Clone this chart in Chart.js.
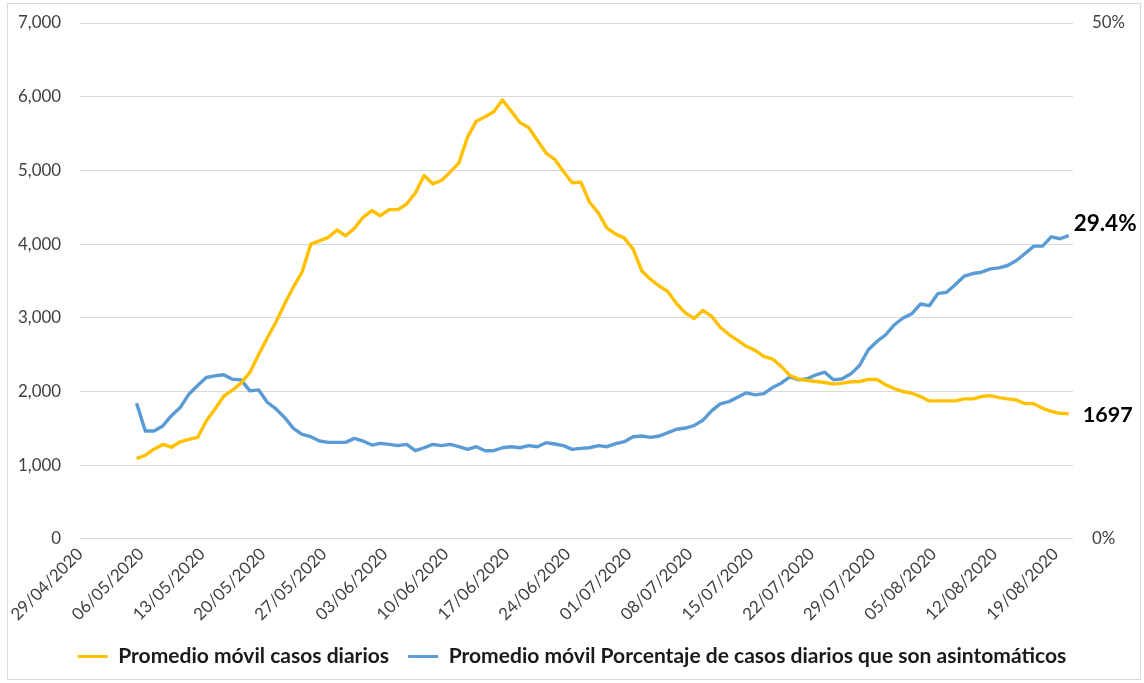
<!DOCTYPE html>
<html>
<head>
<meta charset="utf-8">
<script src="https://cdn.jsdelivr.net/npm/chart.js@4.4.1/dist/chart.umd.min.js"></script>
<style>
  html, body { margin: 0; padding: 0; background: #fff; }
  #wrap { width: 1144px; height: 683px; }
</style>
</head>
<body>
<div id="wrap"><canvas id="c" width="1144" height="683"></canvas></div>
<script>
// ---- Data ----
const tickLabels = ['29/04/2020','06/05/2020','13/05/2020','20/05/2020','27/05/2020','03/06/2020',
  '10/06/2020','17/06/2020','24/06/2020','01/07/2020','08/07/2020','15/07/2020','22/07/2020',
  '29/07/2020','05/08/2020','12/08/2020','19/08/2020'];
const axisDays = 114;        // 29/04/2020 .. 20/08/2020, one slot per day
const firstDataDay = 6;      // 05/05/2020
const seriesNames = ['Promedio móvil casos diarios',
  'Promedio móvil Porcentaje de casos diarios que son asintomáticos'];

const casos = [
  1091,1136,1218,1282,1245,1318,1350,1377,1600,1764,
  1936,2018,2118,2259,2500,2727,2941,3191,3418,3623,
  4000,4045,4091,4191,4114,4214,4364,4455,4386,4468,
  4468,4545,4695,4932,4818,4864,4977,5100,5455,5668,
  5727,5795,5955,5805,5650,5582,5409,5236,5150,4986,
  4832,4841,4568,4423,4218,4136,4082,3932,3636,3523,
  3432,3355,3191,3068,2991,3100,3023,2873,2773,2695,
  2614,2559,2477,2441,2341,2218,2168,2150,2136,2123,
  2100,2114,2132,2136,2164,2164,2091,2041,2000,1977,
  1932,1873,1873,1873,1873,1900,1900,1932,1945,1918,
  1900,1886,1836,1836,1773,1732,1705,1697
];
const asintomaticos = [
  13.15,10.46,10.46,10.95,11.95,12.73,14.03,14.87,15.65,15.81,
  15.91,15.48,15.42,14.35,14.45,13.25,12.60,11.76,10.72,10.14,
  9.91,9.49,9.36,9.36,9.36,9.75,9.49,9.10,9.26,9.17,
  9.04,9.17,8.55,8.84,9.17,9.04,9.17,8.94,8.68,8.94,
  8.55,8.55,8.84,8.94,8.84,9.04,8.94,9.33,9.20,9.04,
  8.68,8.78,8.84,9.04,8.94,9.23,9.43,9.91,9.98,9.85,
  9.98,10.30,10.63,10.75,10.98,11.50,12.41,13.09,13.31,13.74,
  14.16,13.96,14.09,14.67,15.10,15.71,15.42,15.52,15.91,16.16,
  15.42,15.52,16.00,16.81,18.34,19.14,19.79,20.76,21.41,21.83,
  22.77,22.61,23.78,23.91,24.65,25.46,25.72,25.85,26.17,26.27,
  26.50,26.98,27.66,28.38,28.38,29.28,29.09,29.40
];
const leftMax = 7000, leftStep = 1000, rightMax = 50, tickStepDays = 7;

// ---- helpers ----
const mctx = document.createElement('canvas').getContext('2d');
function fitSize(text, weight, family, target) {
  mctx.font = weight + ' 100px ' + family;
  return 100 * target / mctx.measureText(text).width;
}
const FAMILY = 'Lato';
const axisSize = fitSize('7,000', 'normal', FAMILY, 43);
const legendSize = fitSize(seriesNames[0], 'bold', FAMILY, 271);
const pctLabelSize = fitSize('29.4%', 'bold', FAMILY, 63);
const numLabelSize = fitSize('1697', 'bold', FAMILY, 50);

const toPoints = arr => arr.map((v, i) => ({ x: firstDataDay + i + 0.5, y: v }));

const YELLOW = '#FFC000', BLUE = '#5B9BD5';

const frame = {
  id: 'frame',
  beforeDraw(chart) {
    const c = chart.ctx;
    c.save();
    c.fillStyle = '#fff';
    c.fillRect(0, 0, chart.width, chart.height);
    c.strokeStyle = '#D9D9D9';
    c.lineWidth = 1;
    c.strokeRect(7.5, 3.5, 1133, 676);
    c.restore();
  }
};

const endLabels = {
  id: 'endLabels',
  afterDatasetsDraw(chart) {
    const c = chart.ctx;
    c.save();
    c.fillStyle = '#000';
    c.textAlign = 'left';
    c.textBaseline = 'middle';
    const m0 = chart.getDatasetMeta(0), m1 = chart.getDatasetMeta(1);
    const p0 = m0.data[m0.data.length - 1], p1 = m1.data[m1.data.length - 1];
    c.font = 'bold ' + numLabelSize + 'px ' + FAMILY;
    c.fillText(String(casos[casos.length - 1]), p0.x + 14, p0.y + 1);
    c.font = 'bold ' + pctLabelSize + 'px ' + FAMILY;
    c.fillText(asintomaticos[asintomaticos.length - 1].toFixed(1) + '%', p1.x + 5, p1.y - 12);
    c.restore();
  }
};

const noVPad = s => { s.paddingTop = 0; s.paddingBottom = 0; };

new Chart(document.getElementById('c'), {
  type: 'line',
  data: {
    datasets: [
      { label: seriesNames[0], data: toPoints(casos), yAxisID: 'y',
        borderColor: YELLOW, backgroundColor: YELLOW, borderWidth: 3.4,
        pointRadius: 0, tension: 0, borderJoinStyle: 'round' },
      { label: seriesNames[1], data: toPoints(asintomaticos), yAxisID: 'y1',
        borderColor: BLUE, backgroundColor: BLUE, borderWidth: 3.4,
        pointRadius: 0, tension: 0, borderJoinStyle: 'round' }
    ]
  },
  options: {
    responsive: false,
    animation: false,
    events: [],
    layout: { padding: { top: 23, left: 0, right: 0, bottom: 6 } },
    scales: {
      x: {
        type: 'linear', min: 0, max: axisDays, bounds: 'data',
        grid: { display: false, drawTicks: false },
        border: { display: false },
        afterBuildTicks: s => {
          s.ticks = s.ticks.filter(t => t.value % tickStepDays === 0 && t.value / tickStepDays < tickLabels.length);
        },
        ticks: {
          stepSize: tickStepDays, includeBounds: false, autoSkip: false,
          maxRotation: 45, minRotation: 45, padding: 5,
          color: '#404040', font: { family: FAMILY, size: axisSize },
          callback: v => tickLabels[Math.round(v / tickStepDays)]
        },
        afterFit: s => { s.height = 88; }
      },
      y: {
        position: 'left', min: 0, max: leftMax,
        grid: { color: '#D9D9D9', lineWidth: 1, drawTicks: false },
        border: { display: false },
        ticks: {
          stepSize: leftStep, padding: 19, color: '#404040',
          font: { family: FAMILY, size: axisSize },
          callback: v => v.toLocaleString('en-US')
        },
        afterFit: s => { s.width = 80; noVPad(s); }
      },
      y1: {
        position: 'right', min: 0, max: rightMax,
        grid: { display: false, drawTicks: false },
        border: { display: false },
        ticks: {
          stepSize: rightMax, padding: 19, color: '#404040',
          font: { family: FAMILY, size: axisSize },
          callback: v => v + '%'
        },
        afterFit: s => { s.width = 71; noVPad(s); }
      }
    },
    plugins: {
      tooltip: { enabled: false },
      legend: {
        position: 'bottom',
        labels: {
          boxWidth: 30, boxHeight: 3, padding: 19,
          color: '#1a1a1a',
          font: { family: FAMILY, size: legendSize, weight: 'bold' },
          generateLabels(chart) {
            const items = Chart.defaults.plugins.legend.labels.generateLabels(chart);
            items.forEach(it => { it.lineWidth = 0; it.fillStyle = it.strokeStyle; });
            return items;
          }
        }
      }
    }
  },
  plugins: [frame, endLabels]
});
</script>
</body>
</html>
